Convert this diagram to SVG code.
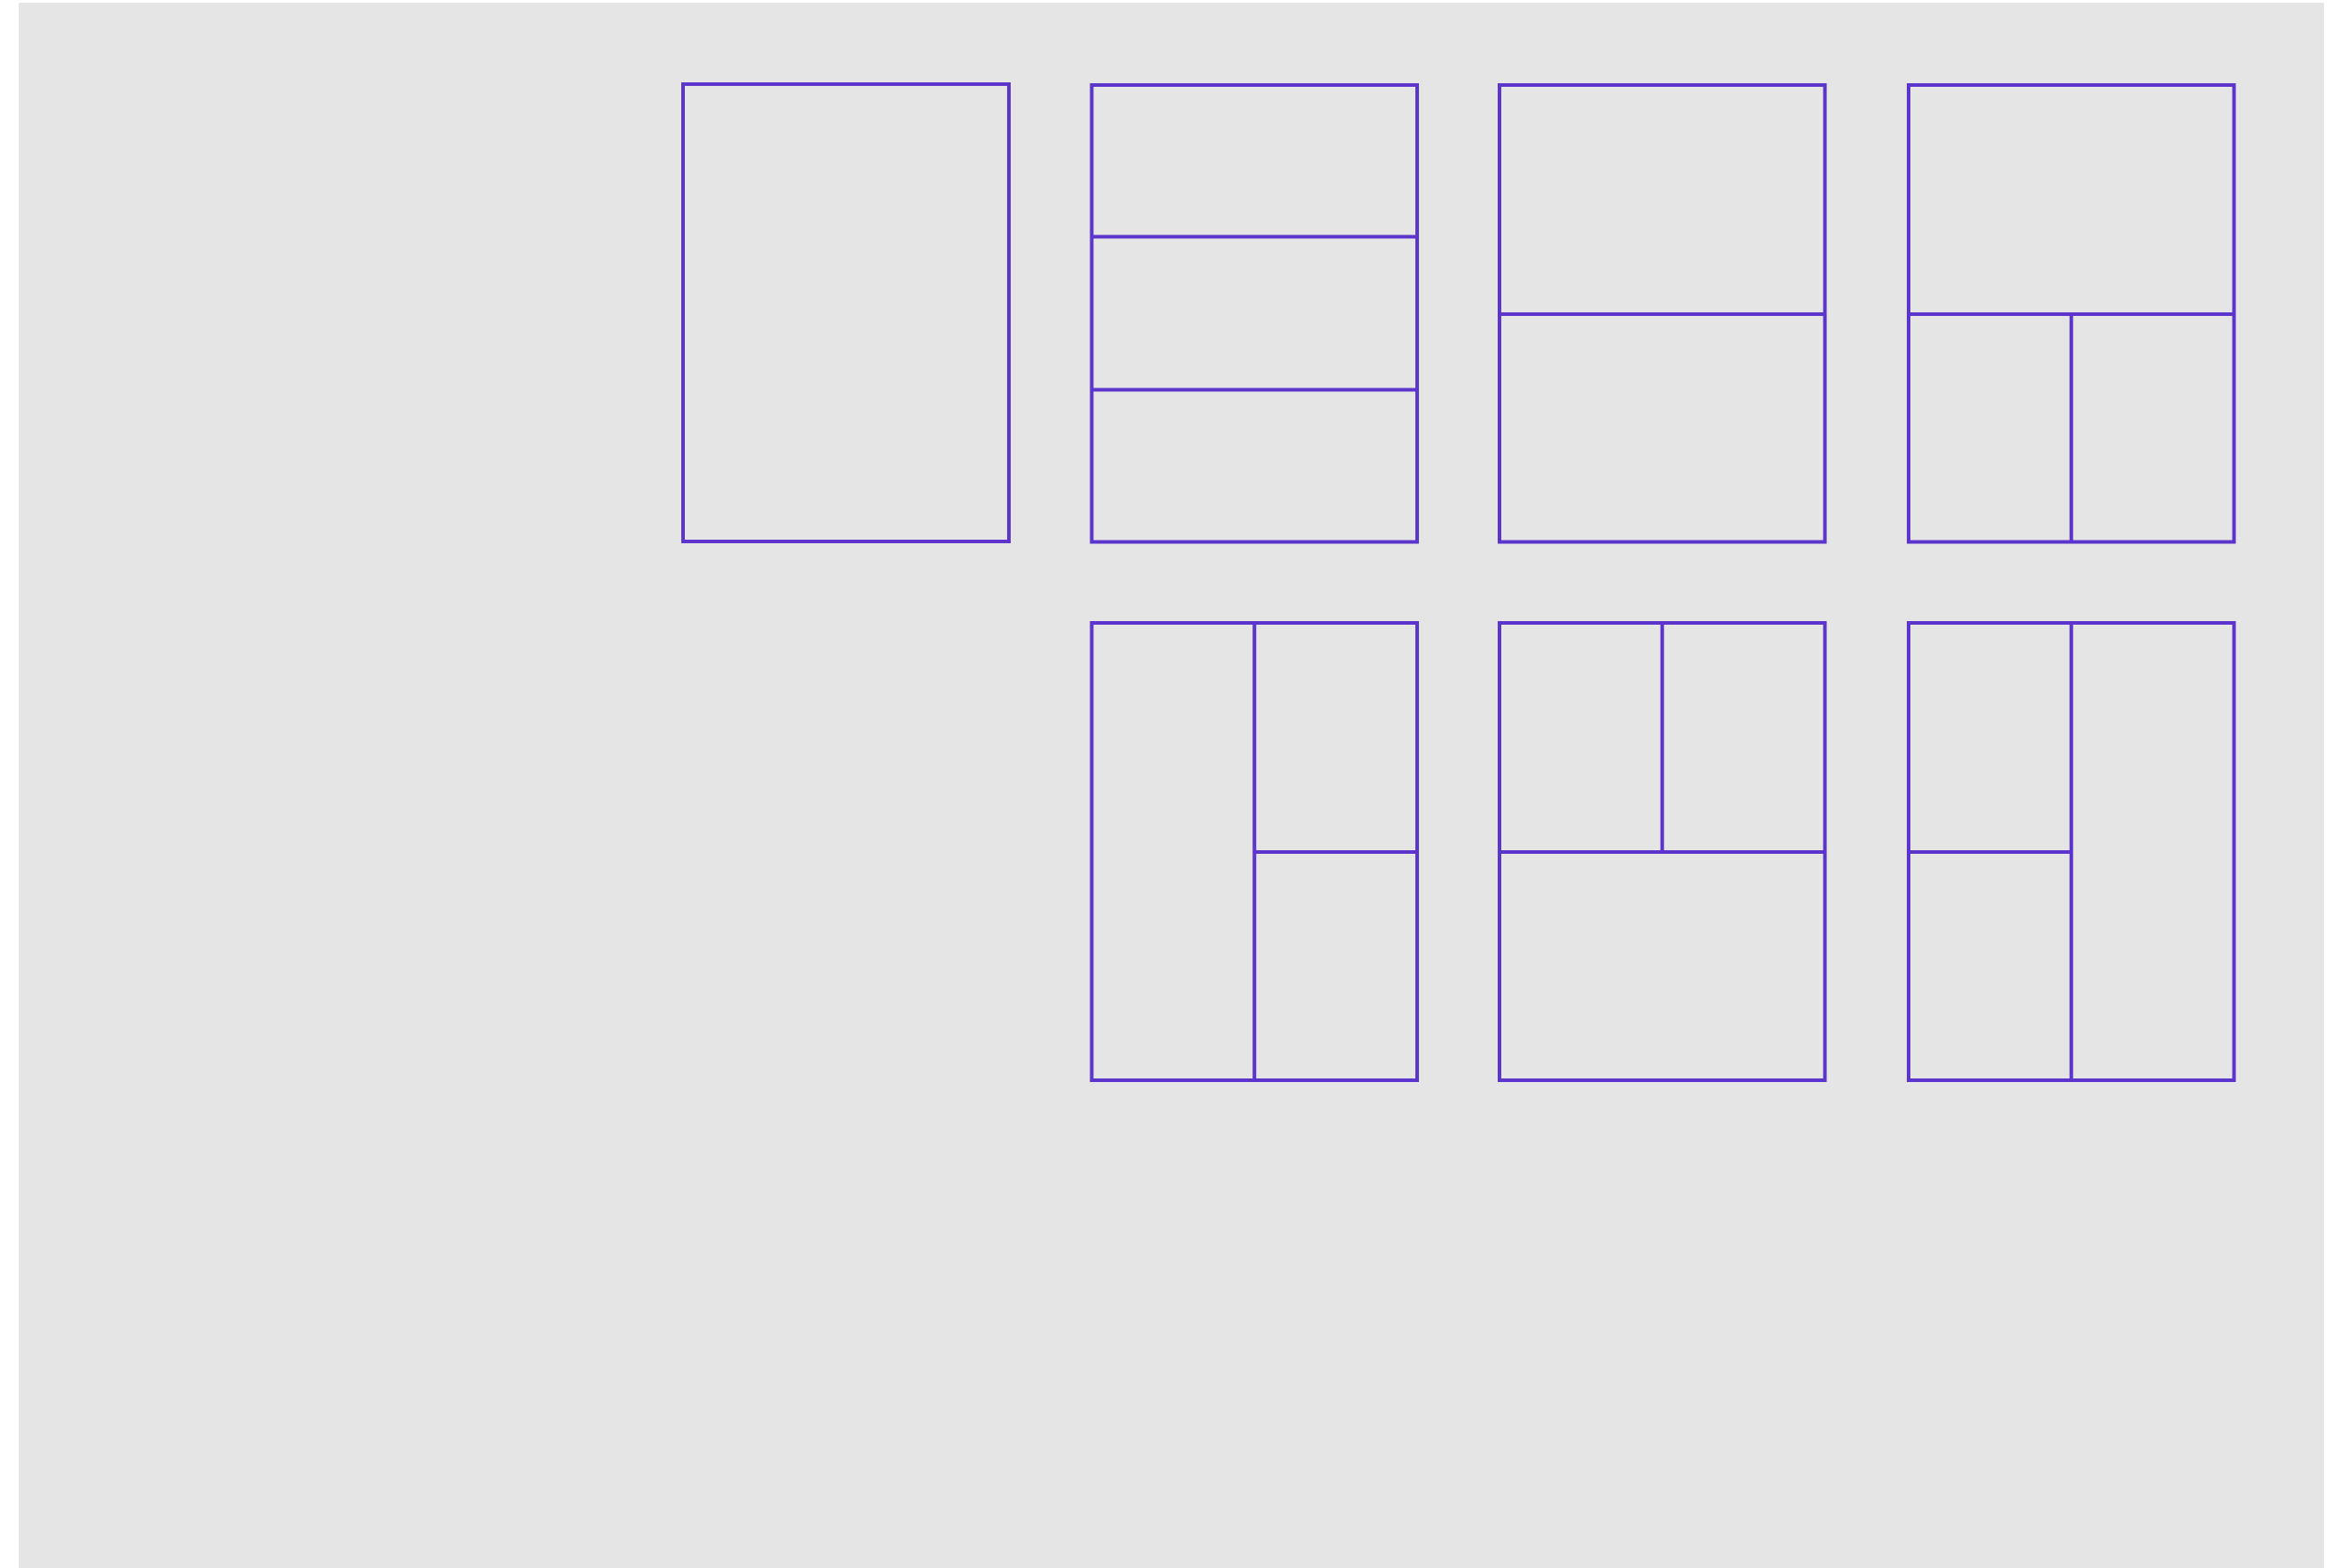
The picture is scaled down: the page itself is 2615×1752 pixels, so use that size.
<svg xmlns="http://www.w3.org/2000/svg" width="2615" height="1752" viewBox="0 0 2615 1752">
<style>
.p{fill:none;stroke:#5b35cc;stroke-width:4}
.d{stroke:#5b35cc;stroke-width:4;fill:none}
</style>
<rect x="0" y="0" width="2615" height="1752" fill="#ffffff"/>
<rect x="21" y="3" width="2575" height="1749" fill="#e5e5e5"/>
<g id="panel1"><rect class="p" x="763" y="94" width="364" height="511"/></g>
<g id="panel2"><rect class="p" x="1219.5" y="95" width="363.5" height="510.5"/><line class="d" x1="1219.5" y1="264.5" x2="1583" y2="264.5"/><line class="d" x1="1219.5" y1="435.5" x2="1583" y2="435.5"/></g>
<g id="panel3"><rect class="p" x="1675" y="95" width="363.5" height="510.5"/><line class="d" x1="1675" y1="351" x2="2038.5" y2="351"/></g>
<g id="panel4"><rect class="p" x="2132" y="95" width="363.5" height="510.5"/><line class="d" x1="2132" y1="351" x2="2495.5" y2="351"/><line class="d" x1="2313.75" y1="351" x2="2313.75" y2="605.5"/></g>
<g id="panel5"><rect class="p" x="1219.5" y="696" width="363.5" height="511"/><line class="d" x1="1401.25" y1="696" x2="1401.25" y2="1207"/><line class="d" x1="1401.25" y1="952" x2="1583" y2="952"/></g>
<g id="panel6"><rect class="p" x="1675" y="696" width="363.5" height="511"/><line class="d" x1="1856.75" y1="696" x2="1856.75" y2="952"/><line class="d" x1="1675" y1="952" x2="2038.5" y2="952"/></g>
<g id="panel7"><rect class="p" x="2132" y="696" width="363.5" height="511"/><line class="d" x1="2313.75" y1="696" x2="2313.75" y2="1207"/><line class="d" x1="2132" y1="952" x2="2313.75" y2="952"/></g>
<g id="connectors"></g>
</svg>
